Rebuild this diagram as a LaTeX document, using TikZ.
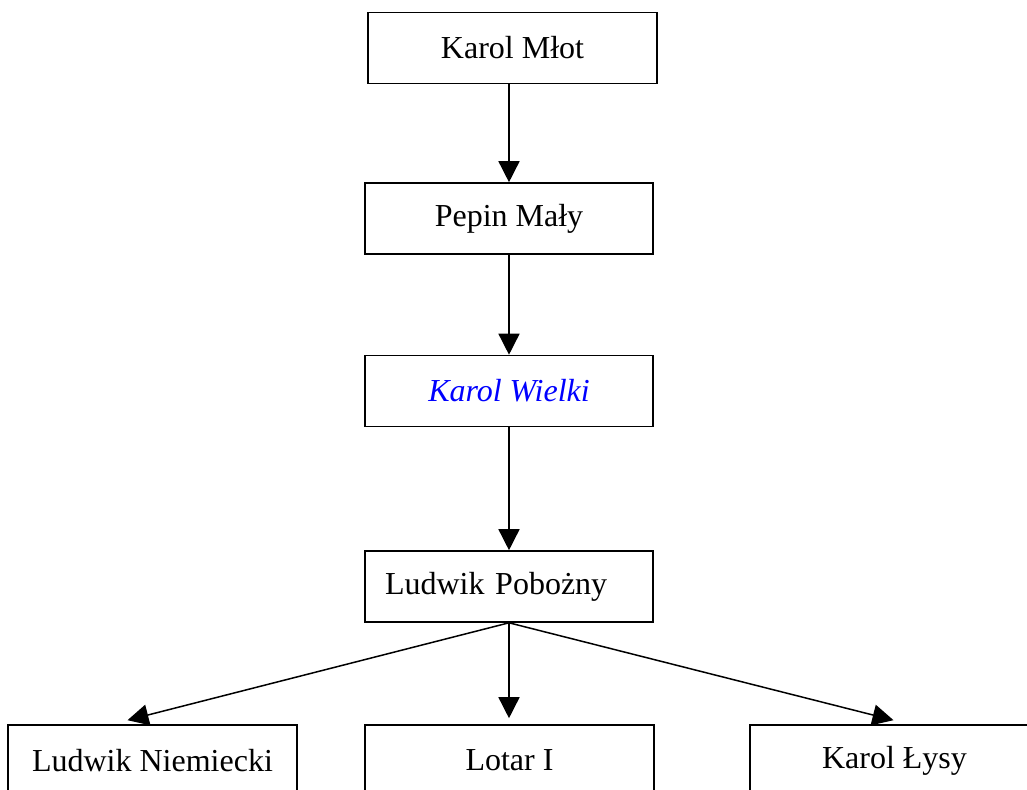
\documentclass[tikz,border=0pt]{standalone}
\usepackage{fontspec}
\setmainfont{Liberation Serif}
\usetikzlibrary{arrows.meta}
\definecolor{wblue}{RGB}{0,0,255}
\tikzset{
  box/.style={draw=black, line width=1.6pt, minimum width=289pt, minimum height=71pt, inner sep=0pt, font=\fontsize{32}{38}\selectfont},
  link/.style={line width=1.5pt, -{Triangle[length=21pt,width=21pt]}}
}
\begin{document}
\begin{tikzpicture}[x=1pt,y=-1pt]
\useasboundingbox (0,0) rectangle (1027,789);
\begin{scope}
\clip (0,0) rectangle (1027,789);
\node[box] (b1) at (512.5,48) {Karol Młot};
\node[box, minimum width=288pt] (b2) at (509,218.5) {Pepin Mały};
\node[box, minimum width=288pt, text=wblue, font=\fontsize{32}{38}\selectfont\itshape] (b3) at (509,391) {Karol Wielki};
\node[box, minimum width=288pt, text width=248pt, align=left, inner xsep=20pt] (b4) at (509,586.5) {Ludwik Pobożny};
\node[box] (b5) at (152.5,760.5) {Ludwik Niemiecki};
\node[box] (b6) at (509.5,760.5) {Lotar I};
\node[box] (b7) at (894.5,760.5) {Karol Łysy};
\draw[link] (b1.south -| b2.north) -- (b2.north);
\draw[link] (b2.south) -- (b3.north);
\draw[link] (b3.south) -- (b4.north);
\draw[link] (b4.south) -- ([xshift=-25pt,yshift=4pt]b5.north);
\draw[link] (b4.south) -- ([yshift=6pt]b4.south |- b6.north);
\draw[link] (b4.south) -- ([xshift=-1pt,yshift=4pt]b7.north);
\end{scope}
\end{tikzpicture}
\end{document}
